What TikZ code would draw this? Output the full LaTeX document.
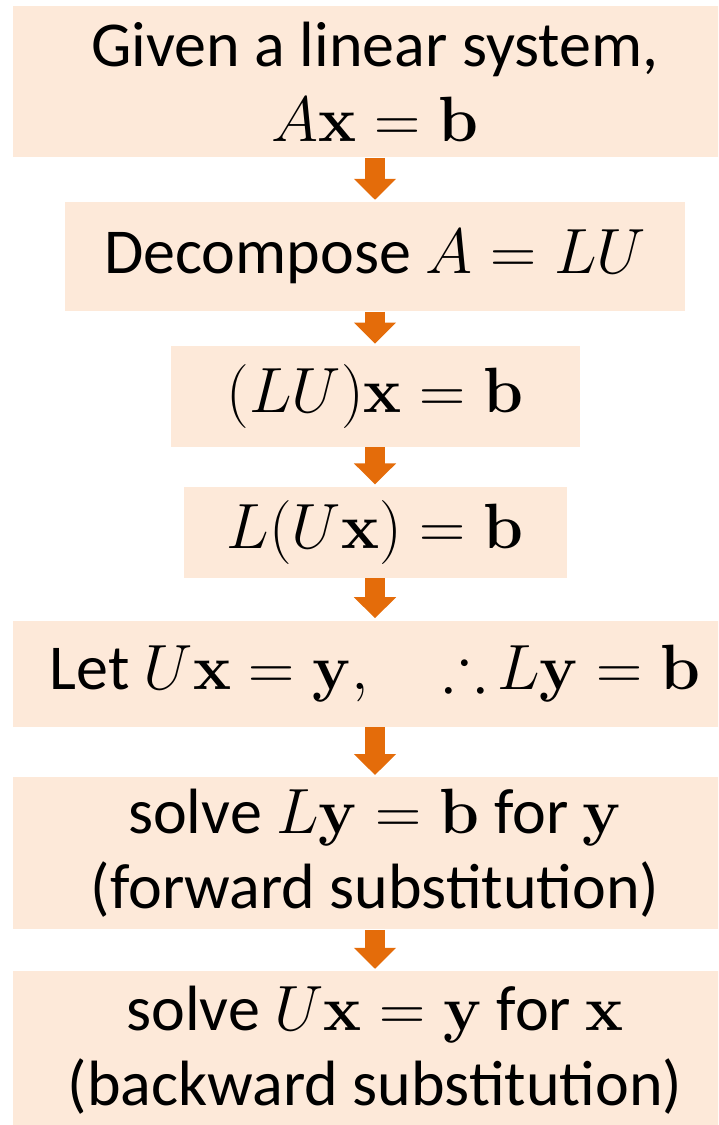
\RequirePackage{fix-cm}
\documentclass[tikz,border=0pt]{standalone}
\usepackage{amsmath, amssymb}
\usepackage[no-math]{fontspec}
\setmainfont{Carlito}
\usepackage{tikz}
\usetikzlibrary{positioning, arrows.meta}
\definecolor{boxfill}{HTML}{FDE9D9}
\definecolor{arrowfill}{HTML}{E46C0A}
\newcommand{\stepfont}{\fontsize{32}{37.5}\selectfont}
\begin{document}
\begin{tikzpicture}[
  font=\stepfont,
  block/.style={fill=boxfill, inner sep=0pt, align=center},
  wide/.style={block, minimum width=362pt},
  flow/.style={draw=arrowfill, line width=10pt, -{Triangle[width=20.5pt, length=10.5pt]}, shorten >=1pt}
]
\useasboundingbox (0,0) rectangle (359pt,-562.5pt);
\clip (0,0) rectangle (359pt,-562.5pt);
% boxes, top to bottom
\node[wide, minimum height=75.5pt, anchor=north] (given) at (187.5pt,-3pt) {Given a linear system,\\$A\mathbf{x}=\mathbf{b}$};
\node[block, minimum width=310pt, minimum height=54.5pt, below=22pt of given] (decomp) {Decompose $A=LU$};
\node[block, minimum width=204.5pt, minimum height=50.5pt, below=17pt of decomp] (lux) {$(LU)\mathbf{x}=\mathbf{b}$};
\node[block, minimum width=191.5pt, minimum height=45.5pt, below=19.5pt of lux] (lpar) {$L(U\mathbf{x})=\mathbf{b}$};
\node[wide, minimum height=53pt, below=21pt of lpar] (let) {Let $U\mathbf{x}=\mathbf{y},\quad{\therefore}\,L\mathbf{y}=\mathbf{b}$};
\node[wide, minimum height=76pt, below=25pt of let] (fwd) {solve $L\mathbf{y}=\mathbf{b}$ for $\mathbf{y}$\\(forward substitution)};
\node[wide, minimum height=79.5pt, below=20.5pt of fwd] (bwd) {solve $U\mathbf{x}=\mathbf{y}$ for $\mathbf{x}$\\(backward substitution)};
% arrows between the steps
\draw[flow] (given) -- (decomp);
\draw[flow] (decomp) -- (lux);
\draw[flow] (lux) -- (lpar);
\draw[flow] (lpar) -- (let);
\draw[flow] (let) -- (fwd);
\draw[flow] (fwd) -- (bwd);
\end{tikzpicture}
\end{document}
